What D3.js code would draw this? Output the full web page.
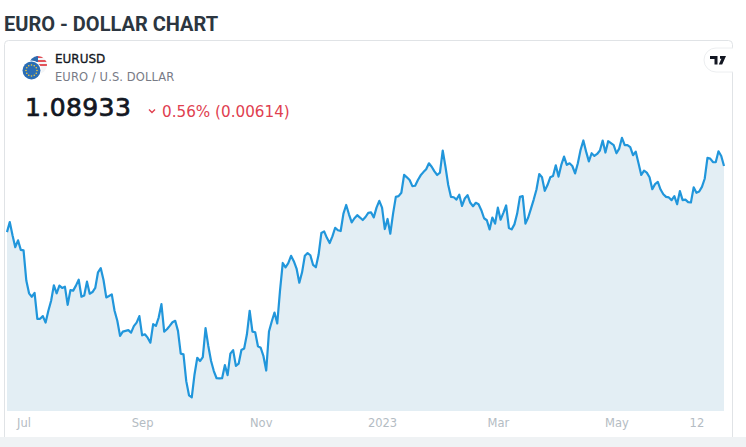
<!DOCTYPE html>
<html><head><meta charset="utf-8">
<script src="https://cdn.jsdelivr.net/npm/d3@7"></script>
<style>html,body{margin:0;padding:0;background:#fff;overflow:hidden}svg{display:block}</style>
</head><body><svg id="c" width="746" height="447"></svg>
<script>
const title = "EURO - DOLLAR CHART";
const symbol = "EURUSD";
const symbolName = "EURO / U.S. DOLLAR";
const lastPrice = "1.08933";
const changeText = "0.56% (0.00614)";
const closes = [
1.0525,1.0581,1.0507,1.0441,1.0479,1.0426,1.0423,1.0255,1.0184,1.0165,1.0186,1.0042,1.0042,1.0057,1.0021,1.0087,1.0143,1.0229,1.0184,1.0227,1.0214,1.0221,1.0120,1.0202,1.0199,1.0227,1.0260,1.0165,1.0172,1.0249,1.0182,1.0191,1.0214,1.0301,1.0324,1.0258,1.0161,1.0169,1.0178,1.0087,1.0031,0.9947,0.9971,0.9975,0.9979,0.9965,1.0001,1.0021,1.0057,0.9950,0.9956,0.9937,0.9909,1.0012,1.0003,1.0049,1.0124,0.9971,0.9984,1.0003,1.0023,1.0031,0.9975,0.9848,0.9844,0.9695,0.9616,0.9605,0.9732,0.9825,0.9807,0.9829,0.9990,0.9891,0.9807,0.9751,0.9711,0.9710,0.9711,0.9784,0.9728,0.9848,0.9868,0.9780,0.9792,0.9868,0.9877,0.9956,1.0087,
0.9971,0.9967,0.9889,0.9881,0.9834,0.9754,0.9971,1.0027,1.0077,1.0016,1.0199,1.0353,1.0329,1.0352,1.0393,1.0363,1.0322,1.0243,1.0301,1.0393,1.0408,1.0396,1.0342,1.0329,1.0400,1.0520,1.0529,1.0493,1.0464,1.0501,1.0549,1.0535,1.0531,1.0628,1.0676,1.0624,1.0579,1.0602,1.0619,1.0606,1.0592,1.0609,1.0632,1.0635,1.0607,1.0661,1.0699,1.0661,1.0542,1.0598,1.0516,1.0628,1.0721,1.0725,1.0744,1.0844,1.0830,1.0815,1.0781,1.0783,1.0815,1.0841,1.0859,1.0875,1.0908,1.0889,1.0863,1.0843,1.0856,1.0979,1.0889,1.0787,1.0721,1.0719,1.0706,1.0733,1.0671,1.0712,1.0731,1.0688,1.0669,1.0688,1.0680,1.0647,1.0602,1.0591,1.0540,1.0606,1.0572,1.0661,
1.0594,1.0632,1.0673,1.0548,1.0540,1.0568,1.0628,1.0721,1.0725,1.0572,1.0606,1.0656,1.0706,1.0762,1.0848,1.0830,1.0755,1.0787,1.0830,1.0837,1.0897,1.0834,1.0899,1.0945,1.0899,1.0908,1.0893,1.0852,1.0908,1.0983,1.1035,1.0973,1.0919,1.0964,1.0949,1.0960,1.0979,1.1035,1.0968,1.1031,1.1020,1.1009,1.0964,1.0990,1.1050,1.1009,1.1009,1.0998,1.0953,1.0973,1.0908,1.0843,1.0867,1.0856,1.0830,1.0764,1.0792,1.0804,1.0762,1.0736,1.0721,1.0718,1.0703,1.0725,1.0680,1.0753,1.0703,1.0706,1.0692,1.0690,1.0774,1.0744,1.0751,1.0777,1.0822,1.0938,1.0934,1.0915,1.0914,1.0975,1.0949,1.0893
];
const tickLabels = ["Jul","Sep","Nov","2023","Mar","May","12"];
const tickIndex = [6,49,92,136,178,221,250];

const svg = d3.select("#c");
const FONT = "'DejaVu Sans',sans-serif";
const x = d3.scaleLinear().domain([0, closes.length-1]).range([7,724]);
const y = d3.scaleLinear().domain([1.0893,0.95287]).range([166,411]);

// page frame
svg.append("rect").attr("x",4.5).attr("y",40.5).attr("width",728).attr("height",410).attr("rx",4)
  .attr("fill","#fff").attr("stroke","#e0e3e6");
svg.append("rect").attr("x",0).attr("y",437).attr("width",746).attr("height",10).attr("fill","#eff2f4");

svg.append("text").attr("x",4).attr("y",31).text(title)
  .attr("font-family","Roboto,sans-serif").attr("font-weight",700).attr("font-size",20).attr("fill","#2c3640");

// chart
const idx = closes.map((_,i)=>i);
svg.append("path").attr("d", d3.area().x(i=>x(i)).y0(y.range()[1]).y1(i=>y(closes[i]))(idx)).attr("fill","#e3eef4");
svg.append("path").attr("d", d3.line().x(i=>x(i)).y(i=>y(closes[i]))(idx))
  .attr("fill","none").attr("stroke","#2196db").attr("stroke-width",2.2).attr("stroke-linejoin","round");

// x axis
const axis = d3.axisBottom(x).tickValues(tickIndex).tickFormat((d,i)=>tickLabels[i]).tickSize(0).tickPadding(0);
const ag = svg.append("g").attr("transform","translate(0,419)").call(axis);
ag.select(".domain").remove();
ag.selectAll("text").attr("font-family",FONT).attr("font-size",11.5).attr("fill","#b4bcc3");

// header
const logo = svg.append("g");
const usClip = svg.append("clipPath").attr("id","us");
usClip.append("circle").attr("cx",38).attr("cy",65).attr("r",9);
const us = logo.append("g").attr("clip-path","url(#us)");
us.append("rect").attr("x",28).attr("y",54).attr("width",20).attr("height",20).attr("fill","#f4f5f7");
[56,60,64].forEach(v=>us.append("rect").attr("x",36).attr("y",v).attr("width",12).attr("height",2).attr("fill","#e2535a"));
us.append("rect").attr("x",30).attr("y",56).attr("width",8).attr("height",6).attr("fill","#2d6cb0");
logo.append("circle").attr("cx",31.5).attr("cy",70.5).attr("r",10).attr("fill","#fff");
logo.append("circle").attr("cx",31.5).attr("cy",70.5).attr("r",9).attr("fill","#2a6db5");
d3.range(12).forEach(k=>{
  const a = k/12*2*Math.PI;
  logo.append("circle").attr("cx",31.5+5.5*Math.cos(a)).attr("cy",70.5+5.5*Math.sin(a)).attr("r",0.8).attr("fill","#f0c93c");
});

svg.append("text").attr("x",55).attr("y",63).text(symbol)
  .attr("font-family",FONT).attr("font-weight",500).attr("font-size",12).attr("fill","#131722")
  .attr("stroke","#131722").attr("stroke-width",0.3);
svg.append("text").attr("x",55).attr("y",81).text(symbolName)
  .attr("font-family",FONT).attr("font-size",11.5).attr("letter-spacing",0.1).attr("fill","#787b86");
svg.append("text").attr("x",25).attr("y",116).text(lastPrice)
  .attr("font-family",FONT).attr("font-size",25).attr("letter-spacing",0.4).attr("fill","#131722")
  .attr("stroke","#131722").attr("stroke-width",0.7);
svg.append("path").attr("d","M149 109.5l3 3 3-3").attr("fill","none").attr("stroke","#e0404f").attr("stroke-width",1.4);
svg.append("text").attr("x",162).attr("y",116.5).text(changeText)
  .attr("font-family",FONT).attr("font-size",15.2).attr("fill","#e0404f");

// brand badge
svg.append("path").attr("d","M733 48H716a12 12 0 0 0 0 24H733").attr("fill","#fff").attr("stroke","#eceef0");
svg.append("path").attr("d","M710 56h7.5v8.5h-3v-5.5h-4.5zM720 56h6l-3.8 8.5h-3.4l2.6-5.7h-1.4z").attr("fill","#131722");
</script></body></html>
